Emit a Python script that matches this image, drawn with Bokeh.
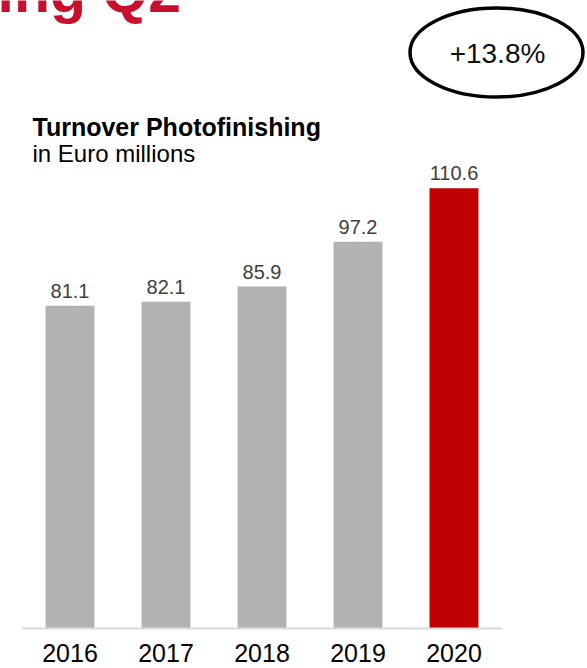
from bokeh.plotting import figure
from bokeh.models import Range1d, ColumnDataSource, Label
from bokeh.core.properties import value
from bokeh.embed import file_html
from bokeh.resources import INLINE

# ---- data ----
years = ["2016", "2017", "2018", "2019", "2020"]
turnover = [81.1, 82.1, 85.9, 97.2, 110.6]
value_labels = ["81.1", "82.1", "85.9", "97.2", "110.6"]
bar_colors = ["#B2B2B2", "#B2B2B2", "#B2B2B2", "#B2B2B2", "#C00000"]
growth_label = "+13.8%"
chart_title = "Turnover Photofinishing"
chart_subtitle = "in Euro millions"
page_title_fragment = "ing Q2"

# ---- layout constants (pixels) ----
W, H = 587, 668
X0_PX = 69.5        # centre of first category
PX_PER_CAT = 96.0
BASE_PX = 628.0     # baseline (value 0) from top
PX_PER_UNIT = 3.98
SHIFT = 0.35        # empirical baseline correction (em)

def px2x(px):
    return (px - X0_PX) / PX_PER_CAT

def py2y(py):
    return (BASE_PX - py) / PX_PER_UNIT

def base(py, size):
    # target alphabetic baseline (px from top) -> data y
    return py2y(py - SHIFT * size)

FONT = "Liberation Sans"

idx = list(range(len(years)))
src = ColumnDataSource(dict(x=idx, top=turnover, color=bar_colors,
                            lab=value_labels, year=years, zero=[0] * len(years)))

p = figure(width=W, height=H, output_backend="svg", toolbar_location=None,
           x_range=Range1d(px2x(0), px2x(W)), y_range=Range1d(py2y(H), py2y(0)),
           min_border=0, min_border_left=0, min_border_right=0,
           min_border_top=0, min_border_bottom=0)
p.axis.visible = False
p.grid.visible = False
p.outline_line_color = None
p.background_fill_color = "white"
p.border_fill_color = "white"

# bars
p.vbar(x="x", top="top", width=0.51, color="color", line_color=None, source=src)

# baseline
p.segment(x0=[-0.5], y0=[0], x1=[len(years) - 0.5], y1=[0],
          line_color="#D9D9D9", line_width=2)

# value labels
p.text(x="x", y="top", text="lab", source=src, y_offset=-15,
       text_align="center", text_baseline="alphabetic",
       text_font=value(FONT), text_font_size="20px", text_color="#404040")

# year labels
p.text(x="x", y="zero", text="year", source=src, y_offset=24,
       text_align="center", text_baseline="alphabetic",
       text_font=value(FONT), text_font_size="25px", text_color="#000000")

# titles
p.add_layout(Label(x=px2x(32), y=base(135, 25), text=chart_title,
                   text_font=FONT, text_font_size="25px", text_font_style="bold",
                   text_color="#000000", text_baseline="alphabetic"))
p.add_layout(Label(x=px2x(32), y=base(161, 24), text=chart_subtitle,
                   text_font=FONT, text_font_size="24px",
                   text_color="#000000", text_baseline="alphabetic"))

# cut-off page heading
p.add_layout(Label(x=px2x(-3), y=base(12, 59), text=page_title_fragment,
                   text_font=FONT, text_font_size="59px", text_font_style="bold",
                   text_color="#C8102E", text_baseline="alphabetic"))

# growth ellipse
p.ellipse(x=[px2x(496)], y=[py2y(52)], width=173, height=89,
          width_units="screen", height_units="screen",
          fill_color=None, line_color="#000000", line_width=3.5)
p.add_layout(Label(x=px2x(497), y=base(63, 28), text=growth_label,
                   text_font=FONT, text_font_size="28px",
                   text_color="#111111", text_align="center",
                   text_baseline="alphabetic"))

open("out.html", "w").write(file_html(p, INLINE))
